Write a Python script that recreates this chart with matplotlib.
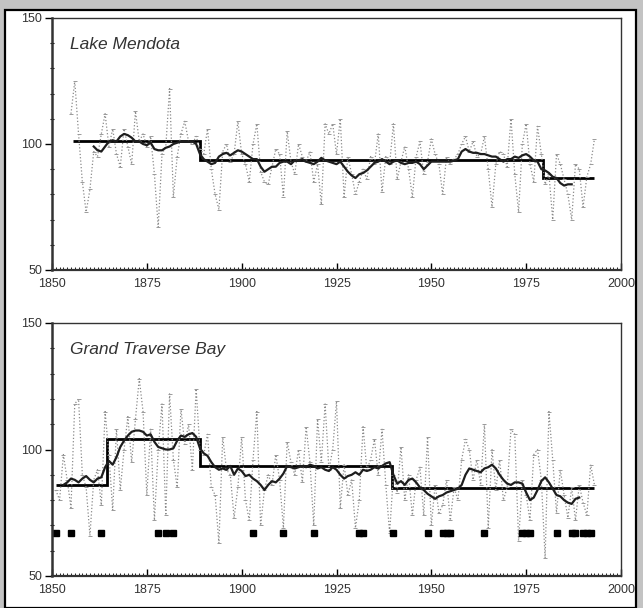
import numpy as np
import matplotlib.pyplot as plt
from matplotlib.patches import Rectangle
from matplotlib.ticker import MultipleLocator

# annual ice duration, Lake Mendota (1855-1993)
mendota_years = np.arange(1855, 1994)
mendota_vals = [
    112, 125, 104, 85, 73, 82, 97, 95, 104, 112, 99, 106, 96, 91, 106, 99, 92, 113, 101, 104,
    99, 103, 88, 67, 96, 99, 122, 79, 95, 104, 109, 101, 100, 103, 98,
    96, 106, 90, 80, 74, 97, 100, 93, 96, 109, 96, 92, 85, 100, 108, 89, 85, 84, 91, 98,
    96, 79, 105, 93, 88, 100, 95, 93, 97, 85, 92, 76, 108, 104,
    108, 96, 110, 79, 95, 88, 80, 85, 90, 86, 95, 92, 104, 81, 95, 92, 108, 86, 93, 99,
    90, 79, 95, 101, 88, 93, 102, 96, 92, 80, 95, 92, 94, 96,
    100, 103, 97, 101, 95, 96, 103, 90, 75, 92, 97, 96, 91, 110, 88, 73, 100, 108, 92, 85,
    107, 96, 84, 88, 70, 96, 92, 86, 80, 70, 92, 90, 75, 87, 92, 102,
]

# running mean, Lake Mendota (1861-1987)
mendota_smooth_years = np.arange(1861, 1988)
mendota_smooth = [
    99, 97.5, 97, 99, 101, 101.5, 101, 103, 104, 103.5, 102.5, 101, 101, 100, 99.5, 100.5,
    98, 97.5, 97.5, 98.5, 99, 100, 100.5, 101, 101, 101, 101, 100, 96, 94, 93, 92, 92.5,
    95, 96, 96.5, 95.5, 96.5, 97.5, 97, 96, 95, 94, 94, 91, 89, 90, 91, 91, 92.5, 93, 93,
    92, 93.5, 93.5, 94, 93, 92.5, 92, 93, 94.5, 93.5, 93, 92.5, 92, 93, 91, 89, 87.5, 86.5,
    88, 88.5, 89.5, 91, 92.5, 93, 94, 93, 92, 93, 93.5, 92.5, 92, 92.5, 92.5, 93, 92, 90,
    91.5, 93, 93, 93, 93, 93, 93, 93.5, 94, 97, 98, 97, 96.5, 96.5, 96, 96, 95.5, 95, 95,
    94, 93, 94, 94, 95, 94.5, 95.5, 96, 95, 93.5, 93, 90, 89.5, 88.5, 87, 86.5, 84.5, 83.5,
    84, 84,
]

# regime means, Lake Mendota
mendota_edges = [1855.5, 1889, 1979.5, 1993]
mendota_levels = [101, 93.5, 86.5]

# annual ice duration, Grand Traverse Bay (1851-1993)
gtb_years = np.arange(1851, 1994)
gtb_vals = [
    84, 80, 98, 88, 77, 118, 120, 90, 85, 66, 88, 92, 78, 115, 98, 76, 108, 84, 100, 113,
    95, 112, 128, 115, 82, 108, 72, 100, 118, 74, 122, 96, 85, 116, 102, 110, 92, 124,
    100, 98, 106, 85, 82, 63, 105, 92, 90, 73, 85, 105, 80, 72, 96, 115, 70, 84, 90, 86,
    98, 88, 69, 103, 95, 90, 100, 87, 109, 95, 70, 112, 95,
    118, 92, 100, 119, 77, 94, 82, 88, 69, 80, 109, 92, 96, 104, 90, 108, 86, 67, 90, 83,
    101, 80, 90, 74, 88, 93, 74, 105, 70, 86, 75, 78, 88, 72, 85,
    80, 96, 104, 100, 88, 96, 86, 110, 69, 100, 84, 96, 80, 85, 108, 106, 64, 88, 82, 72,
    98, 100, 88, 57, 115, 96, 75, 92, 82, 73, 85, 72, 86, 79, 74, 94, 86,
]

# running mean, Grand Traverse Bay (1853-1989)
gtb_smooth_years = np.arange(1853, 1990)
gtb_smooth = [
    86, 87, 88.5, 88, 87, 88.5, 89.5, 88, 87, 88.5, 89, 93, 95.5, 94, 97, 101, 103.5, 105.5,
    107, 107.5, 107.5, 107, 105.5, 106, 103, 101, 100.5, 100, 100, 100.5, 103.5, 105.5, 105,
    106, 106.5, 105, 100.5, 98.5, 97.5, 95, 93, 92, 92.5, 92, 93.5, 90, 92.5, 91.5, 89.5,
    90, 88.5, 87.5, 86, 84, 86, 87.5, 87, 88.5, 90.5, 93.5, 93, 92.5, 93, 93.5, 93, 94,
    93.5, 92.5, 93, 92, 91.5, 93, 92, 90, 88.5, 89.5, 90, 91, 90, 92, 91.5, 92, 93, 92.5,
    93.5, 94.5, 95, 90, 86.5, 87.5, 86, 88, 88.5, 87, 85, 84, 82.5, 81.5, 80.5, 81.5, 82,
    83, 83.5, 84, 84.5, 86, 90, 92.5, 92, 91.5, 91, 92.5, 93, 94, 92.5, 90, 88, 86.5, 86,
    87, 87, 86.5, 83, 80, 81, 84, 87.5, 89, 87, 84.5, 82, 81.5, 80, 79, 78.5, 80.5, 81,
]

# regime means, Grand Traverse Bay
gtb_edges = [1851, 1864.5, 1889, 1939.5, 1993]
gtb_levels = [86, 104, 93.3, 84.7]

# years flagged along the bottom of the Grand Traverse Bay panel
gtb_flag_years = [1851, 1855, 1863, 1878, 1880, 1882, 1903, 1911, 1919, 1931, 1932,
                  1940, 1949, 1953, 1954, 1955, 1964, 1974, 1975, 1976, 1983, 1987,
                  1988, 1990, 1991, 1992]
flag_level = 67

plt.rcParams['font.family'] = ['Liberation Sans', 'DejaVu Sans']

fig = plt.figure(figsize=(6.43, 6.08), dpi=100)
fig.patch.set_facecolor('#c3c3c3')
W, H = 643, 608
fig.patches.append(Rectangle((5 / W, 0), 1 - 12 / W, 1 - 10 / H, transform=fig.transFigure,
                             facecolor='white', edgecolor='black', linewidth=1.6, zorder=-10))

ax1 = fig.add_axes([52 / W, 1 - 270 / H, 569 / W, 252 / H])
ax2 = fig.add_axes([52 / W, 1 - 576 / H, 569 / W, 253 / H])


def draw_panel(ax, years, vals, sm_years, sm_vals, edges, levels, title):
    ax.plot(years, vals, linestyle=':', color='#8a8a8a', linewidth=0.9,
            marker='_', markersize=2.5, markeredgewidth=0.7, markeredgecolor='#9a9a9a')
    ax.plot(sm_years, sm_vals, color='#1e1e1e', linewidth=1.6)
    ax.stairs(levels, edges, baseline=None, color='black', linewidth=2.0)
    ax.set_xlim(1850, 2000)
    ax.set_ylim(50, 150)
    ax.xaxis.set_major_locator(MultipleLocator(25))
    ax.xaxis.set_minor_locator(MultipleLocator(1))
    ax.yaxis.set_major_locator(MultipleLocator(50))
    ax.yaxis.set_minor_locator(MultipleLocator(10))
    ax.tick_params(axis='x', which='major', direction='in', length=5, width=1.0,
                   labelsize=9, labelcolor='#333333', pad=6)
    ax.tick_params(axis='x', which='minor', direction='in', length=2.5, width=0.6)
    ax.tick_params(axis='y', which='major', direction='out', length=5, width=1.0,
                   labelsize=9, labelcolor='#333333', pad=2)
    ax.tick_params(axis='y', which='minor', direction='inout', length=3, width=0.8)
    for side, sp in ax.spines.items():
        sp.set_color('#333333')
        sp.set_linewidth(1.0)
    ax.spines['left'].set_linewidth(1.8)
    ax.spines['bottom'].set_linewidth(1.6)
    ax.text(0.032, 0.895, title, transform=ax.transAxes, fontsize=12.5,
            style='italic', color='#333333', va='center', ha='left')


draw_panel(ax1, mendota_years, mendota_vals, mendota_smooth_years, mendota_smooth,
           mendota_edges, mendota_levels, 'Lake Mendota')
draw_panel(ax2, gtb_years, gtb_vals, gtb_smooth_years, gtb_smooth,
           gtb_edges, gtb_levels, 'Grand Traverse Bay')
ax2.plot(gtb_flag_years, [flag_level] * len(gtb_flag_years), linestyle='none',
         marker='s', markersize=5, color='black')

fig.savefig('out.png', dpi=100)
